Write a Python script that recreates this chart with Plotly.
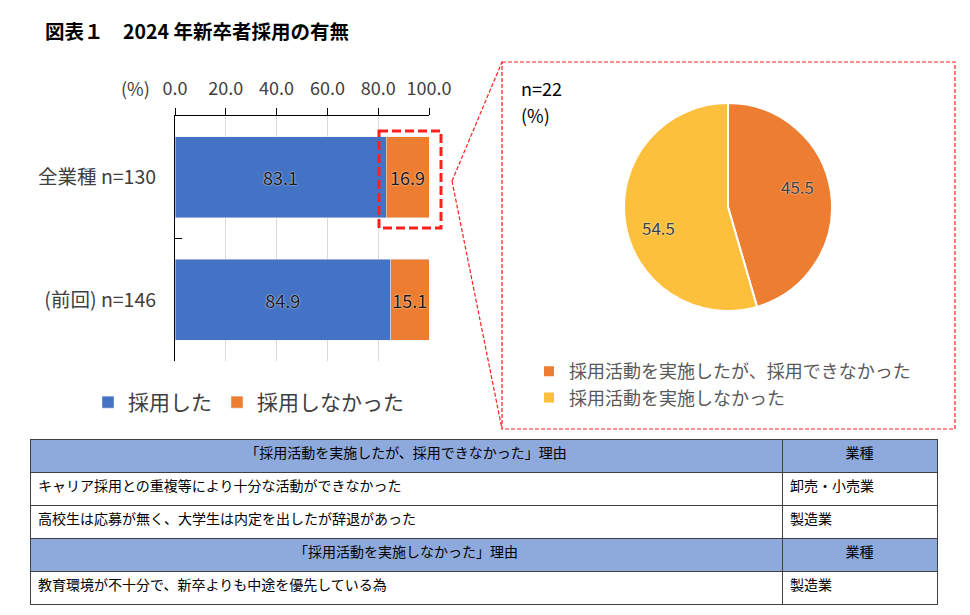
import math
import plotly.graph_objects as go

# data
groups = ["全業種 n=130", "(前回) n=146"]
hired = [83.1, 84.9]
not_hired = [16.9, 15.1]
series_names = ["採用した", "採用しなかった"]

pie_labels = ["採用活動を実施したが、採用できなかった", "採用活動を実施しなかった"]
pie_values = [45.5, 54.5]

head_a = ["「採用活動を実施したが、採用できなかった」理由", "業種"]
reasons_a = ["キャリア採用との重複等により十分な活動ができなかった",
             "高校生は応募が無く、大学生は内定を出したが辞退があった"]
industries_a = ["卸売・小売業", "製造業"]
head_b = ["「採用活動を実施しなかった」理由", "業種"]
reasons_b = ["教育環境が不十分で、新卒よりも中途を優先している為"]
industries_b = ["製造業"]

FONT = "Noto Sans CJK JP"
W, H = 970, 615
BLUE, ORANGE, GOLD = "#4472C4", "#ED7D31", "#FCC03C"
HEAD = "#8EA9DB"
ROW = 33


def px(x, y):
    # pixel -> paper
    return x / W, 1 - y / H


fig = go.Figure()
shadow = "0px 0px 2px white"
for vals, name, col in [(hired, series_names[0], BLUE), (not_hired, series_names[1], ORANGE)]:
    fig.add_trace(go.Bar(y=groups, x=vals, name=name, orientation="h",
                         marker_color=col, texttemplate="%{x:.1f}", textangle=0,
                         textposition="inside", insidetextanchor="middle",
                         textfont=dict(color="#1a1a1a", size=18, shadow=shadow)))

# pie, centre (728, 207), radius 104 px
pcx, pcy, pr = 728, 207, 104
fig.add_trace(go.Pie(labels=pie_labels, values=pie_values, sort=False,
                     direction="clockwise", rotation=0,
                     marker=dict(colors=[ORANGE, GOLD], line=dict(color="white", width=2)),
                     textinfo="none",
                     domain=dict(x=[(pcx - pr) / W, (pcx + pr) / W],
                                 y=[1 - (pcy + pr) / H, 1 - (pcy - pr) / H]),
                     legend="legend2", hoverinfo="label+value"))
# slice value labels at ~0.7 radius, a little before each slice's mid angle
total = sum(pie_values)
start = 0.0
for v in pie_values:
    mid = (start + v / 2) / total * 2 * math.pi - 0.14
    start += v
    lx = pcx + 0.70 * pr * math.sin(mid)
    ly = pcy - 0.70 * pr * math.cos(mid)
    a, b = px(lx, ly)
    fig.add_annotation(x=a, y=b, xref="paper", yref="paper", text=f"{v:.1f}",
                       showarrow=False, xanchor="center", yanchor="middle",
                       font=dict(size=17, color="#404040", shadow=shadow))


def add_table(head, reasons, inds, top):
    bottom = top + ROW * (len(reasons) + 1)
    fig.add_trace(go.Table(
        domain=dict(x=[30 / W, 937 / W], y=[1 - (bottom + 1) / H, 1 - top / H]),
        columnwidth=[752, 155],
        header=dict(values=head, fill_color=HEAD, align="center", height=ROW,
                    line=dict(color="#404040", width=1),
                    font=dict(family=FONT, size=14, color="#000000")),
        cells=dict(values=[reasons, inds], fill_color="white", align="left", height=ROW,
                   line=dict(color="#404040", width=1),
                   font=dict(family=FONT, size=14, color="#000000")),
    ))
    return bottom


nxt = add_table(head_a, reasons_a, industries_a, 439)
add_table(head_b, reasons_b, industries_b, nxt)

fig.update_layout(
    width=W, height=H, margin=dict(l=0, r=0, t=0, b=0, autoexpand=False),
    paper_bgcolor="white", plot_bgcolor="white",
    font=dict(family=FONT, color="#404040"),
    barmode="stack", bargap=0.34,
    uniformtext=dict(minsize=18, mode="show"),
    xaxis=dict(domain=[175 / W, 429 / W], side="top", range=[0, 100], dtick=20,
               tickformat=".1f", showline=True, linecolor="black", linewidth=1,
               ticks="outside", ticklen=7, tickcolor="black", ticklabelstandoff=6,
               showgrid=True, gridcolor="#D9D9D9", zeroline=False, automargin=False,
               tickfont=dict(size=18, color="#404040")),
    yaxis=dict(domain=[1 - 361 / H, 1 - 116 / H], autorange="reversed",
               showline=True, linecolor="black", linewidth=1, automargin=False,
               tickson="boundaries", ticks="inside", ticklen=7, tickcolor="black",
               ticklabelstandoff=14, tickfont=dict(size=19.5, color="#404040")),
    legend=dict(orientation="h", x=88 / W, y=1 - 382 / H, xanchor="left", yanchor="top",
                font=dict(size=21, color="#404040"), traceorder="normal"),
    legend2=dict(x=529 / W, y=1 - 353 / H, xanchor="left", yanchor="top", itemwidth=30,
                 font=dict(size=18, color="#595959"), bgcolor="rgba(0,0,0,0)"),
)

# title and small labels
x0, y0 = px(43, 30)
fig.add_annotation(x=x0, y=y0, xref="paper", yref="paper", xanchor="left", yanchor="middle",
                   text="<b>図表１　2024 年新卒者採用の有無</b>", showarrow=False,
                   font=dict(size=19.5, color="black"))
x0, y0 = px(152, 88)
fig.add_annotation(x=x0, y=y0, xref="paper", yref="paper", xanchor="right", yanchor="middle",
                   text="(%)", showarrow=False, font=dict(size=18, color="#404040"))
for txt, yy in [("n=22", 88), ("(%)", 115)]:
    x0, y0 = px(519, yy)
    fig.add_annotation(x=x0, y=y0, xref="paper", yref="paper", xanchor="left", yanchor="middle",
                       text=txt, showarrow=False, font=dict(size=18, color="black"))

# highlight box and zoom lines
a0, b0 = px(379, 131)
a1, b1 = px(441, 228)
fig.add_shape(type="rect", xref="paper", yref="paper", x0=a0, y0=b0, x1=a1, y1=b1,
              line=dict(color="#FF1F1F", width=3, dash="9px,4px"))
a0, b0 = px(502, 62)
a1, b1 = px(955, 429)
fig.add_shape(type="rect", xref="paper", yref="paper", x0=a0, y0=b0, x1=a1, y1=b1,
              line=dict(color="#FF1F1F", width=1.2, dash="4px,2px"))
pa, pb = px(452, 181)
for cx, cy in [(502, 62), (502, 429)]:
    qa, qb = px(cx, cy)
    fig.add_shape(type="line", xref="paper", yref="paper", x0=pa, y0=pb, x1=qa, y1=qb,
                  line=dict(color="#FF1F1F", width=1.2, dash="4px,2px"))

fig.write_html("out.html", config={"displayModeBar": False},
               post_script="document.body.style.margin='0';document.body.style.overflow='hidden';")
